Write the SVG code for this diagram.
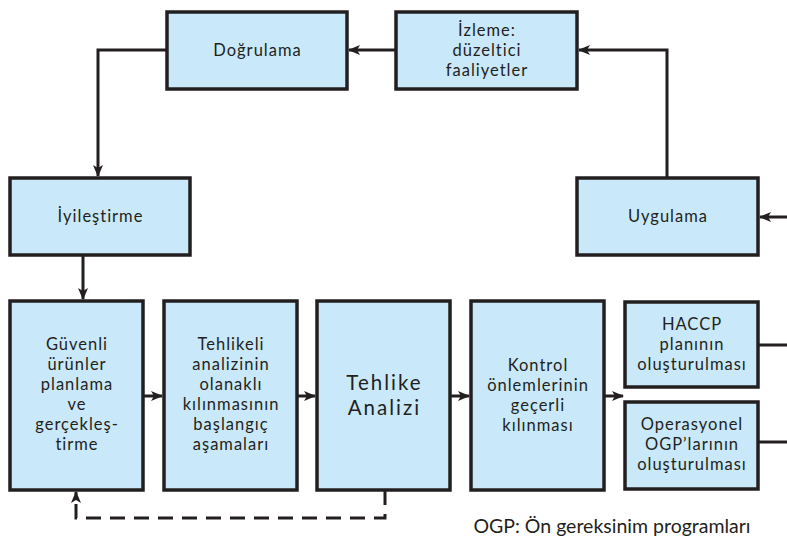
<svg xmlns="http://www.w3.org/2000/svg" width="787" height="541" viewBox="0 0 787 541">
<defs>
<style>
.box{fill:#c9e9fa;stroke:#231f20;stroke-width:3.5}
.t{font-family:Lato,"Open Sans","DejaVu Sans",sans-serif;font-size:16.5px;letter-spacing:1px;fill:#231f20;text-anchor:middle}
.big{font-size:20.5px;letter-spacing:2px}
.ln{fill:none;stroke:#231f20;stroke-width:3}
.dash{fill:none;stroke:#231f20;stroke-width:3;stroke-dasharray:15 9}
</style>
<marker id="ah" viewBox="0 0 12 10" refX="11" refY="5" markerWidth="12" markerHeight="10" markerUnits="userSpaceOnUse" orient="auto">
<path d="M0,0 L12,5 L0,10 L3,5 Z" fill="#231f20"/>
</marker>
</defs>
<rect width="787" height="541" fill="#ffffff"/>
<g id="dogrulama"><rect class="box" x="167" y="12" width="180" height="77"/><text class="t" x="257.5" y="56">Doğrulama</text></g>
<g id="izleme"><rect class="box" x="396" y="12" width="181" height="77"/><text class="t" x="487" y="36">İzleme:</text><text class="t" x="487" y="56">düzeltici</text><text class="t" x="487" y="76">faaliyetler</text></g>
<g id="iyilestirme"><rect class="box" x="10" y="178" width="180" height="77"/><text class="t" x="100.5" y="222">İyileştirme</text></g>
<g id="uygulama"><rect class="box" x="577" y="178" width="181" height="77"/><text class="t" x="668" y="222">Uygulama</text></g>
<g id="guvenli"><rect class="box" x="10" y="301" width="133" height="189"/>
<text class="t" x="77" y="350">Güvenli</text><text class="t" x="77" y="370">ürünler</text><text class="t" x="77" y="390">planlama</text><text class="t" x="77" y="410">ve</text><text class="t" x="77" y="430">gerçekleş-</text><text class="t" x="77" y="450">tirme</text></g>
<g id="tehlikeli"><rect class="box" x="164" y="301" width="133" height="189"/>
<text class="t" x="231" y="350">Tehlikeli</text><text class="t" x="231" y="370">analizinin</text><text class="t" x="231" y="390">olanaklı</text><text class="t" x="231" y="410">kılınmasının</text><text class="t" x="231" y="430">başlangıç</text><text class="t" x="231" y="450">aşamaları</text></g>
<g id="tehlike-analizi"><rect class="box" x="317" y="301" width="133" height="189"/>
<text class="t big" x="384.5" y="389.5">Tehlike</text><text class="t big" x="384.5" y="414.5">Analizi</text></g>
<g id="kontrol"><rect class="box" x="471" y="301" width="133" height="189"/>
<text class="t" x="538" y="371">Kontrol</text><text class="t" x="538" y="391">önlemlerinin</text><text class="t" x="538" y="411">geçerli</text><text class="t" x="538" y="431">kılınması</text></g>
<g id="haccp"><rect class="box" x="625" y="302" width="133" height="85"/>
<text class="t" x="692" y="330">HACCP</text><text class="t" x="692" y="350">planının</text><text class="t" x="692" y="370">oluşturulması</text></g>
<g id="operasyonel"><rect class="box" x="625" y="402" width="133" height="87"/>
<text class="t" x="692" y="430">Operasyonel</text><text class="t" x="692" y="450">OGP’larının</text><text class="t" x="692" y="470">oluşturulması</text></g>
<g id="connectors">
<path class="ln" d="M667,178 V50 H579" marker-end="url(#ah)"/>
<path class="ln" d="M396,50 H349" marker-end="url(#ah)"/>
<path class="ln" d="M167,50 H98 V176" marker-end="url(#ah)"/>
<path class="ln" d="M787,217 H760" marker-end="url(#ah)"/>
<path class="ln" d="M83,255 V299" marker-end="url(#ah)"/>
<path class="ln" d="M143,396 H162" marker-end="url(#ah)"/>
<path class="ln" d="M297,396 H315" marker-end="url(#ah)"/>
<path class="ln" d="M450,396 H469" marker-end="url(#ah)"/>
<path class="ln" d="M604,396 H623" marker-end="url(#ah)"/>
<path class="ln" d="M758,345 H787"/>
<path class="ln" d="M758,442 H787"/>
<path class="dash" d="M385,490 V518 H76 V492" marker-end="url(#ah)"/>
</g>
<text class="t" x="612" y="533" style="font-size:19.5px;letter-spacing:0">OGP: Ön gereksinim programları</text>
</svg>
